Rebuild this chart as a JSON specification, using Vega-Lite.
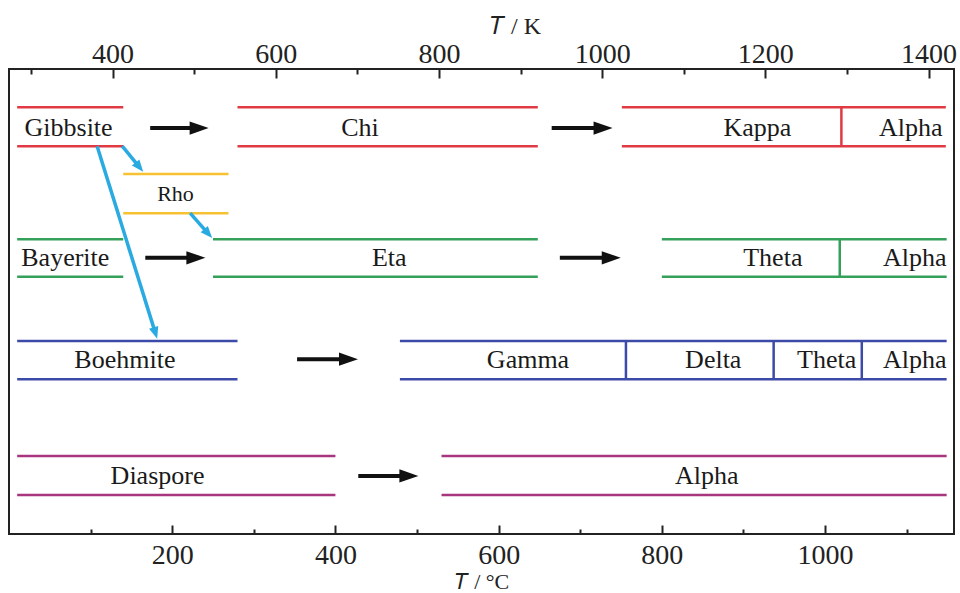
{
  "$schema": "https://vega.github.io/schema/vega-lite/v6.json",
  "width": 945,
  "height": 465,
  "autosize": {"type": "none"},
  "padding": {"left": 9, "top": 69, "right": 6, "bottom": 59},
  "background": "white",
  "config": {"view": {"stroke": "#222", "strokeWidth": 2}, "font": "Liberation Serif"},
  "datasets": {
    "bands": [
      {"row": "Gibbsite", "x1": 10, "x2": 140, "top": 8.2, "bot": 16.6},
      {"row": "Gibbsite", "x1": 280, "x2": 648, "top": 8.2, "bot": 16.6},
      {"row": "Gibbsite", "x1": 751, "x2": 1148, "top": 8.2, "bot": 16.6},
      {"row": "Rho", "x1": 140, "x2": 269, "top": 22.6, "bot": 31.0},
      {"row": "Bayerite", "x1": 10, "x2": 140, "top": 36.6, "bot": 44.7},
      {"row": "Bayerite", "x1": 250, "x2": 648, "top": 36.6, "bot": 44.7},
      {"row": "Bayerite", "x1": 800, "x2": 1149, "top": 36.6, "bot": 44.7},
      {"row": "Boehmite", "x1": 10, "x2": 280, "top": 58.5, "bot": 66.7},
      {"row": "Boehmite", "x1": 479, "x2": 1149, "top": 58.5, "bot": 66.7},
      {"row": "Diaspore", "x1": 10, "x2": 400, "top": 83.2, "bot": 91.6},
      {"row": "Diaspore", "x1": 530, "x2": 1149, "top": 83.2, "bot": 91.6}
    ],
    "dividers": [
      {"row": "Gibbsite", "x": 1020, "top": 8.2, "bot": 16.6},
      {"row": "Bayerite", "x": 1018, "top": 36.6, "bot": 44.7},
      {"row": "Boehmite", "x": 756, "top": 58.5, "bot": 66.7},
      {"row": "Boehmite", "x": 937, "top": 58.5, "bot": 66.7},
      {"row": "Boehmite", "x": 1045, "top": 58.5, "bot": 66.7}
    ],
    "arrows": [
      {"x1": 173, "x2": 233, "y": 12.7},
      {"x1": 665, "x2": 728, "y": 12.7},
      {"x1": 167, "x2": 229, "y": 40.6},
      {"x1": 675, "x2": 738, "y": 40.6},
      {"x1": 353, "x2": 416, "y": 62.4},
      {"x1": 428, "x2": 490, "y": 87.5}
    ],
    "cyan": [
      {"id": 1, "x1": 108, "y1": 16.6, "x2": 179.4, "y2": 56.8},
      {"id": 2, "x1": 138.8, "y1": 16.6, "x2": 159.8, "y2": 21.1},
      {"id": 3, "x1": 222, "y1": 31.0, "x2": 244.1, "y2": 35.4}
    ],
    "labels": [
      {"text": "Gibbsite", "x": 73, "y": 12.7},
      {"text": "Chi", "x": 430, "y": 12.7},
      {"text": "Kappa", "x": 917, "y": 12.7},
      {"text": "Alpha", "x": 1105, "y": 12.7},
      {"text": "Rho", "x": 204, "y": 26.9},
      {"text": "Bayerite", "x": 69, "y": 40.6},
      {"text": "Eta", "x": 466, "y": 40.6},
      {"text": "Theta", "x": 936, "y": 40.6},
      {"text": "Alpha", "x": 1110, "y": 40.6},
      {"text": "Boehmite", "x": 142, "y": 62.6},
      {"text": "Gamma", "x": 636, "y": 62.6},
      {"text": "Delta", "x": 863, "y": 62.6},
      {"text": "Theta", "x": 1002, "y": 62.6},
      {"text": "Alpha", "x": 1110, "y": 62.6},
      {"text": "Diaspore", "x": 182, "y": 87.5},
      {"text": "Alpha", "x": 855, "y": 87.5}
    ]
  },
  "resolve": {"axis": {"x": "independent"}},
  "layer": [
    {
      "data": {"name": "bands"},
      "mark": {"type": "rule", "strokeWidth": 2.5},
      "encoding": {
        "x": {"field": "x1", "type": "quantitative", "scale": {"domain": [0, 1158], "nice": false, "zero": false},
          "axis": {"orient": "bottom", "values": [200, 400, 600, 800, 1000], "format": "d", "title": "𝑇 / °C",
            "domain": false, "grid": false, "tickSize": -9, "tickWidth": 2, "tickColor": "#222",
            "labelFont": "Liberation Serif", "labelFontSize": 28, "labelColor": "#222", "labelPadding": 16,
            "labelFlush": false, "labelOverlap": false,
            "titleFont": "Liberation Serif", "titleFontSize": 22, "titleFontWeight": "normal", "titleColor": "#222",
            "titleY": 47, "titleBaseline": "middle"}},
        "x2": {"field": "x2"},
        "y": {"field": "top", "type": "quantitative", "scale": {"domain": [0, 100], "reverse": true, "nice": false, "zero": false}, "axis": null},
        "color": {"field": "row", "type": "nominal", "legend": null,
          "scale": {"domain": ["Gibbsite", "Rho", "Bayerite", "Boehmite", "Diaspore"], "range": ["#e03a45", "#f6c232", "#34a05a", "#3c4aa8", "#a8367e"]}}
      }
    },
    {
      "data": {"name": "bands"},
      "mark": {"type": "rule", "strokeWidth": 2.5},
      "encoding": {
        "x": {"field": "x1", "type": "quantitative", "scale": {"domain": [0, 1158], "nice": false, "zero": false},
          "axis": {"orient": "top", "values": [126.85, 326.85, 526.85, 726.85, 926.85, 1126.85],
            "labelExpr": "format(datum.value + 273.15, 'd')", "title": "𝑇 / K",
            "domain": false, "grid": false, "tickSize": -9, "tickWidth": 2, "tickColor": "#222",
            "labelFont": "Liberation Serif", "labelFontSize": 28, "labelColor": "#222", "labelPadding": 10,
            "labelFlush": false, "labelOverlap": false,
            "titleFont": "Liberation Serif", "titleFontSize": 24, "titleFontWeight": "normal", "titleColor": "#222",
            "titleX": 506, "titleY": -43, "titleBaseline": "middle", "titleAlign": "center"}},
        "x2": {"field": "x2"},
        "y": {"field": "bot", "type": "quantitative", "axis": null},
        "color": {"field": "row", "type": "nominal", "legend": null}
      }
    },
    {
      "data": {"name": "dividers"},
      "mark": {"type": "rule", "strokeWidth": 2.5},
      "encoding": {
        "x": {"field": "x", "type": "quantitative",
          "axis": {"orient": "bottom", "values": [100, 300, 500, 700, 900, 1100], "labels": false, "title": null,
            "domain": false, "grid": false, "tickSize": -5, "tickWidth": 2, "tickColor": "#222"}},
        "y": {"field": "top", "type": "quantitative", "axis": null},
        "y2": {"field": "bot"},
        "color": {"field": "row", "type": "nominal", "legend": null}
      }
    },
    {
      "data": {"name": "arrows"},
      "mark": {"type": "rule", "strokeWidth": 4, "color": "#111"},
      "encoding": {
        "x": {"field": "x1", "type": "quantitative",
          "axis": {"orient": "top", "values": [26.85, 226.85, 426.85, 626.85, 826.85, 1026.85], "labels": false, "title": null,
            "domain": false, "grid": false, "tickSize": -5, "tickWidth": 2, "tickColor": "#222"}},
        "x2": {"field": "x2"},
        "y": {"field": "y", "type": "quantitative", "axis": null}
      }
    },
    {
      "data": {"name": "arrows"},
      "mark": {"type": "point", "shape": "M1,0L-1,-0.7L-1,0.7Z", "size": 361, "filled": true, "opacity": 1, "color": "#111", "strokeWidth": 0},
      "encoding": {
        "x": {"field": "x2", "type": "quantitative", "axis": null},
        "y": {"field": "y", "type": "quantitative", "axis": null}
      }
    },
    {
      "data": {"name": "cyan"},
      "mark": {"type": "rule", "strokeWidth": 3.5, "color": "#29aae1"},
      "encoding": {
        "x": {"field": "x1", "type": "quantitative", "axis": null},
        "y": {"field": "y1", "type": "quantitative", "axis": null},
        "x2": {"field": "x2"},
        "y2": {"field": "y2"}
      }
    },
    {
      "data": {"name": "cyan"},
      "transform": [{"filter": "datum.id == 1"}],
      "mark": {"type": "point", "shape": "M1,0L-1,-0.8L-1,0.8Z", "size": 144, "filled": true, "opacity": 1, "color": "#29aae1", "strokeWidth": 0, "angle": 72.7},
      "encoding": {
        "x": {"field": "x2", "type": "quantitative", "axis": null},
        "y": {"field": "y2", "type": "quantitative", "axis": null}
      }
    },
    {
      "data": {"name": "cyan"},
      "transform": [{"filter": "datum.id == 2"}],
      "mark": {"type": "point", "shape": "M1,0L-1,-0.8L-1,0.8Z", "size": 144, "filled": true, "opacity": 1, "color": "#29aae1", "strokeWidth": 0, "angle": 51},
      "encoding": {
        "x": {"field": "x2", "type": "quantitative", "axis": null},
        "y": {"field": "y2", "type": "quantitative", "axis": null}
      }
    },
    {
      "data": {"name": "cyan"},
      "transform": [{"filter": "datum.id == 3"}],
      "mark": {"type": "point", "shape": "M1,0L-1,-0.8L-1,0.8Z", "size": 144, "filled": true, "opacity": 1, "color": "#29aae1", "strokeWidth": 0, "angle": 48.7},
      "encoding": {
        "x": {"field": "x2", "type": "quantitative", "axis": null},
        "y": {"field": "y2", "type": "quantitative", "axis": null}
      }
    },
    {
      "data": {"name": "labels"},
      "transform": [{"filter": "datum.text != 'Rho'"}],
      "mark": {"type": "text", "font": "Liberation Serif", "fontSize": 26, "color": "#1a1a1a", "baseline": "middle", "align": "center"},
      "encoding": {
        "x": {"field": "x", "type": "quantitative", "axis": null},
        "y": {"field": "y", "type": "quantitative", "axis": null},
        "text": {"field": "text"}
      }
    },
    {
      "data": {"name": "labels"},
      "transform": [{"filter": "datum.text == 'Rho'"}],
      "mark": {"type": "text", "font": "Liberation Serif", "fontSize": 22, "color": "#1a1a1a", "baseline": "middle", "align": "center"},
      "encoding": {
        "x": {"field": "x", "type": "quantitative", "axis": null},
        "y": {"field": "y", "type": "quantitative", "axis": null},
        "text": {"field": "text"}
      }
    }
  ]
}
